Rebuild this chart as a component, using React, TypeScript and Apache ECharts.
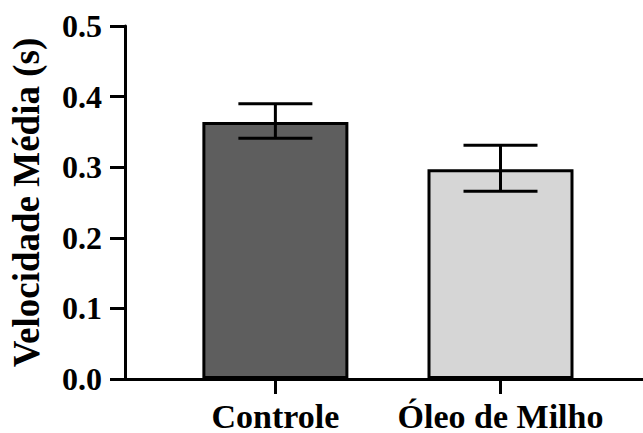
import React, { useEffect, useRef } from "react";
import * as echarts from "echarts";

const categories = ["Controle", "Óleo de Milho"];
const positions = [1, 2];
const means = [0.364, 0.297];
const errLow = [0.341, 0.266];
const errHigh = [0.390, 0.331];
const barColors = ["#5e5e5e", "#d6d6d6"];
const yTicks = [0, 0.1, 0.2, 0.3, 0.4, 0.5];

const FONT = "Liberation Serif";

export default function App() {
  const ref = useRef<HTMLDivElement>(null);
  useEffect(() => {
    document.body.style.margin = "0";
    const chart = echarts.init(ref.current!, undefined, { renderer: "svg" });
    const option: any = {
      animation: false,
      backgroundColor: "#ffffff",
      grid: { left: 123, right: 0, top: 26, bottom: 54, containLabel: false },
      xAxis: {
        type: "value",
        min: 0.332,
        max: 2.633,
        splitLine: { show: false },
        axisLine: { show: true, onZero: false, lineStyle: { color: "#000", width: 3 } },
        axisTick: {
          show: true,
          customValues: positions,
          length: 15,
          lineStyle: { color: "#000", width: 3 },
        },
        axisLabel: {
          customValues: positions,
          margin: 20,
          color: "#000",
          fontFamily: FONT,
          fontWeight: "bold",
          fontSize: 34,
          formatter: (v: number) => categories[positions.indexOf(Math.round(v))] ?? "",
        },
      },
      yAxis: {
        type: "value",
        min: yTicks[0],
        max: yTicks[yTicks.length - 1],
        interval: 0.1,
        name: "Velocidade Média (s)",
        nameLocation: "middle",
        nameRotate: 90,
        nameGap: 80,
        nameTextStyle: {
          color: "#000",
          fontFamily: FONT,
          fontWeight: "bold",
          fontSize: 37,
        },
        splitLine: { show: false },
        axisLine: { show: true, lineStyle: { color: "#000", width: 3 } },
        axisTick: { show: true, length: 15, lineStyle: { color: "#000", width: 3 } },
        axisLabel: {
          margin: 23,
          color: "#000",
          fontFamily: FONT,
          fontWeight: "bold",
          fontSize: 32,
          formatter: (v: number) => v.toFixed(1),
        },
      },
      series: [
        {
          type: "bar",
          barWidth: 146,
          data: positions.map((p, i) => ({
            value: [p, means[i]],
            itemStyle: { color: barColors[i], borderColor: "#000", borderWidth: 3 },
          })),
          z: 2,
        },
        {
          type: "custom",
          z: 3,
          data: positions.map((p, i) => [p, errLow[i], errHigh[i]]),
          renderItem: (params: any, api: any) => {
            const x = api.value(0);
            const lo = api.coord([x, api.value(1)]);
            const hi = api.coord([x, api.value(2)]);
            const hw = 37;
            const style = { stroke: "#000", lineWidth: 3 };
            return {
              type: "group",
              children: [
                { type: "line", shape: { x1: lo[0], y1: lo[1], x2: hi[0], y2: hi[1] }, style },
                { type: "line", shape: { x1: hi[0] - hw, y1: hi[1], x2: hi[0] + hw, y2: hi[1] }, style },
                { type: "line", shape: { x1: lo[0] - hw, y1: lo[1], x2: lo[0] + hw, y2: lo[1] }, style },
              ],
            };
          },
        },
      ],
    };
    chart.setOption(option);
    return () => chart.dispose();
  }, []);
  return <div ref={ref} style={{ width: 643, height: 433 }} />;
}
